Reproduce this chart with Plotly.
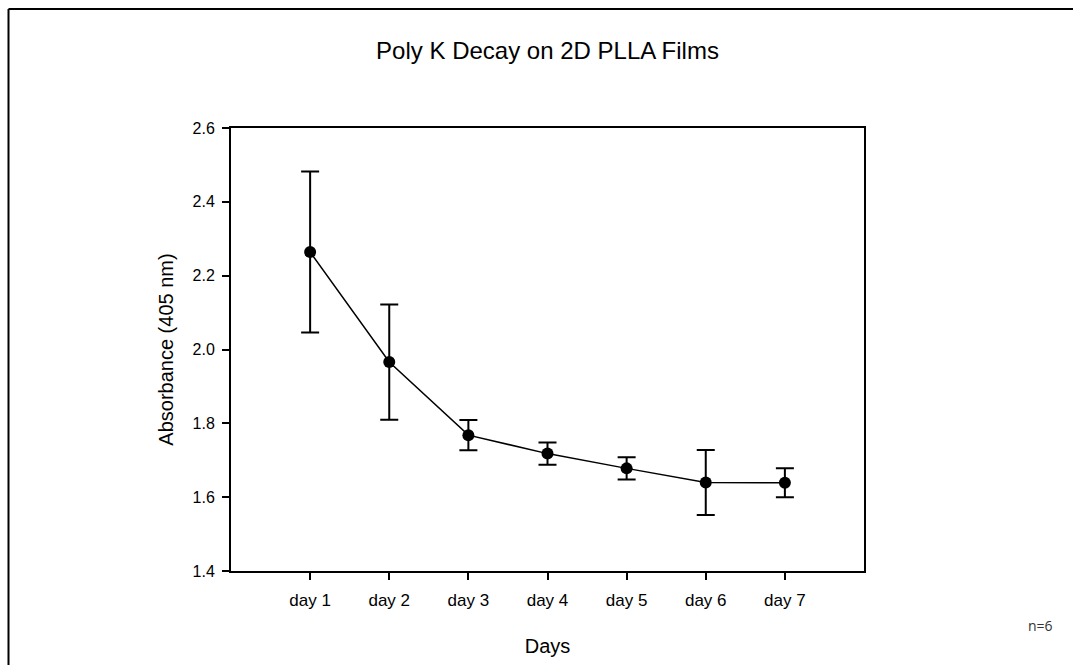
import plotly.graph_objects as go

days = [1, 2, 3, 4, 5, 6, 7]
day_labels = ["day 1", "day 2", "day 3", "day 4", "day 5", "day 6", "day 7"]
absorbance = [2.264, 1.966, 1.768, 1.718, 1.678, 1.640, 1.639]
err = [0.218, 0.156, 0.041, 0.030, 0.030, 0.088, 0.039]
y_ticks = [1.4, 1.6, 1.8, 2.0, 2.2, 2.4, 2.6]
y_tick_text = ["1.4", "1.6", "1.8", "2.0", "2.2", "2.4", "2.6"]

FONT = "Liberation Sans, Arial, sans-serif"

fig = go.Figure()
fig.add_trace(go.Scatter(
    x=days, y=absorbance,
    mode="lines+markers",
    line=dict(color="black", width=1.5),
    marker=dict(color="black", size=12, symbol="circle"),
    error_y=dict(type="data", array=err, visible=True, color="black",
                 thickness=2, width=9),
    showlegend=False,
))

L, R, T, B = 231, 209, 128, 94
W, H = 1073, 665
pw, ph = W - L - R, H - T - B

def px_x(px):
    return (px - L) / pw

def px_y(py):
    return (H - B - py) / ph

fig.update_layout(
    width=W, height=H,
    margin=dict(l=L, r=R, t=T, b=B),
    paper_bgcolor="white", plot_bgcolor="white",
    font=dict(family=FONT, color="black"),
    title=dict(text="Poly K Decay on 2D PLLA Films", x=px_x(547.5), xanchor="center",
               xref="paper", y=1 - 51 / H, yanchor="middle", yref="container",
               font=dict(size=24, family=FONT, color="black")),
    xaxis=dict(range=[0, 8], tickvals=days, ticktext=day_labels,
               showline=True, linecolor="black", linewidth=2, mirror=True,
               ticks="outside", ticklen=7, tickwidth=1.5, tickcolor="black",
               showgrid=False, zeroline=False, ticklabelstandoff=6,
               tickfont=dict(size=17, family=FONT),
               title=dict(text="Days", font=dict(size=20, family=FONT), standoff=30)),
    yaxis=dict(range=[1.4, 2.6], tickvals=y_ticks, ticktext=y_tick_text,
               showline=True, linecolor="black", linewidth=2, mirror=True,
               ticks="outside", ticklen=7, tickwidth=1.5, tickcolor="black",
               showgrid=False, zeroline=False, ticklabelstandoff=4,
               tickfont=dict(size=16, family=FONT),
               title=dict(text="Absorbance (405 nm)", font=dict(size=20, family=FONT), standoff=14)),
)

# outer frame (only top and left edges visible in the reference)
fig.add_shape(type="line", xref="paper", yref="paper",
              x0=px_x(8.5), x1=px_x(1090), y0=px_y(9), y1=px_y(9),
              line=dict(color="black", width=2))
fig.add_shape(type="line", xref="paper", yref="paper",
              x0=px_x(8.5), x1=px_x(8.5), y0=px_y(9), y1=px_y(680),
              line=dict(color="black", width=2))

fig.add_annotation(text="n=6", xref="paper", yref="paper",
                   x=px_x(1040), y=px_y(625), xanchor="center", yanchor="middle",
                   showarrow=False, font=dict(size=14, color="#333333", family="Open Sans, sans-serif"))

fig.write_html("out.html")
